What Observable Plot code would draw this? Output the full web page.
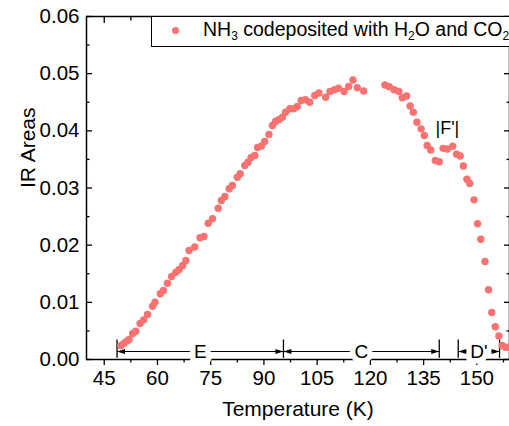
<!DOCTYPE html>
<html>
<head>
<meta charset="utf-8">
<script src="https://cdn.jsdelivr.net/npm/d3@7"></script>
<script src="https://cdn.jsdelivr.net/npm/@observablehq/plot@0.6"></script>
<style>
  html, body { margin: 0; padding: 0; background: #fff; overflow: hidden; }
  #wrap { position: relative; width: 509px; height: 426px; overflow: hidden; font-family: Arial, "Liberation Sans", sans-serif; }
  #legendBox { position: absolute; left: 151px; top: 15.5px; width: 400px; height: 31px; border: 1.3px solid #000; background: #fff; box-sizing: border-box; }
  #legendDot { position: absolute; left: 171.5px; top: 27px; width: 7px; height: 7px; border-radius: 50%; background: #f87272; }
  #legendText { position: absolute; left: 203px; top: 20.2px; font-size: 19.5px; line-height: 1; white-space: nowrap; color: #000; }
  #legendText span { font-size: 12px; position: relative; top: 4px; }
</style>
</head>
<body>
<div id="wrap">
  <div id="chart"></div>
  <div id="legendBox"></div>
  <div id="legendDot"></div>
  <div id="legendText">NH<span>3</span> codeposited with H<span>2</span>O and CO<span>2</span></div>
</div>
<script>
// Temperature (K)
const temperature = [
  49.7, 50.6, 51.4, 52.0, 53.0, 53.9, 55.1, 56.1, 57.2, 58.6,
  59.3, 60.8, 61.7, 62.8, 64.0, 65.2, 66.1, 67.1, 68.0, 68.9,
  70.5, 72.0, 73.1, 74.3, 75.5, 77.1, 78.0, 79.0, 80.2, 81.1,
  82.5, 83.3, 84.6, 85.5, 86.4, 87.4, 88.2, 89.3, 90.2, 91.4,
  92.4, 93.3, 94.2, 95.2, 96.1, 97.3, 98.4, 99.4, 100.5, 101.7,
  102.9, 104.3, 105.5, 107.4, 108.6, 109.9, 111.0, 112.6, 113.9, 115.1,
  116.3, 118.1, 124.1, 125.3, 126.7, 128.0, 129.0, 130.2, 131.2, 132.1,
  133.1, 134.3, 135.2, 136.0, 137.0, 138.3, 139.4, 140.5, 141.7, 143.2,
  144.3, 145.3, 146.2, 147.2, 148.0, 149.2, 150.2, 151.1, 152.3, 153.3,
  154.2, 155.2, 156.2, 157.1, 158.1, 159.0
];
// IR Areas
const irArea = [
  0.00245, 0.00285, 0.00324, 0.00350, 0.00455, 0.00495, 0.00630, 0.00694, 0.00787, 0.00932,
  0.01002, 0.01149, 0.01207, 0.01335, 0.01452, 0.01527, 0.01574, 0.01644, 0.01732, 0.01907,
  0.01968, 0.02129, 0.02151, 0.02384, 0.02461, 0.02647, 0.02781, 0.02851, 0.02986, 0.03044,
  0.03189, 0.03248, 0.03393, 0.03451, 0.03533, 0.03568, 0.03708, 0.03735, 0.03813, 0.03936,
  0.04093, 0.04168, 0.04193, 0.04238, 0.04326, 0.04385, 0.04385, 0.04425, 0.04530, 0.04543,
  0.04500, 0.04618, 0.04662, 0.04588, 0.04688, 0.04718, 0.04745, 0.04688, 0.04775, 0.04889,
  0.04753, 0.04697, 0.04801, 0.04770, 0.04718, 0.04688, 0.04578, 0.04609, 0.04434, 0.04326,
  0.04151, 0.04035, 0.03918, 0.03743, 0.03665, 0.03481, 0.03460, 0.03694, 0.03682, 0.03731,
  0.03591, 0.03560, 0.03385, 0.03152, 0.03079, 0.02793, 0.02374, 0.02104, 0.01714, 0.01219,
  0.00822, 0.00572, 0.00411, 0.00245, 0.00215, 0.00215
];
const seriesName = "NH3 codeposited with H2O and CO2";

// Axis ticks
const xMajorTicks = [45, 60, 75, 90, 105, 120, 135, 150];
const xMinorTicks = [52.5, 67.5, 82.5, 97.5, 112.5, 127.5, 142.5, 157.5];
const yMajorTicks = [0, 0.01, 0.02, 0.03, 0.04, 0.05, 0.06];
const yMinorTicks = [0.005, 0.015, 0.025, 0.035, 0.045, 0.055];

// Temperature regions (annotation)
const regionLabels = ["E", "C", "D'"];
const regionStart = [48.6, 95.5, 144.75];
const regionEnd = [95.5, 139.4, 156.4];
const regionBounds = [48.6, 95.5, 139.4, 144.75, 156.4];
const arrowLevel = 0.0014;
const barLow = 0.0002;
const barHigh = 0.0034;
const peakLabel = "|F'|";
const peakLabelT = 141.7;
const peakLabelA = 0.0404;

const data = temperature.map((t, i) => ({t, a: irArea[i]}));
const regions = regionLabels.map((label, i) => ({
  label, x1: regionStart[i], x2: regionEnd[i], mid: (regionStart[i] + regionEnd[i]) / 2, y: arrowLevel
}));
const leftHeads = regions.map(r => ({x: r.x1, y: r.y}));
const rightHeads = regions.map(r => ({x: r.x2, y: r.y}));

const headLeft = {draw(ctx) { ctx.moveTo(0, 0); ctx.lineTo(8, -2.6); ctx.lineTo(8, 2.6); ctx.closePath(); }};
const headRight = {draw(ctx) { ctx.moveTo(0, 0); ctx.lineTo(-8, -2.6); ctx.lineTo(-8, 2.6); ctx.closePath(); }};

const color = "#f87272";
const blank = () => "";

const chart = Plot.plot({
  width: 509,
  height: 426,
  marginLeft: 86,
  marginRight: 0,
  marginTop: 16,
  marginBottom: 67,
  x: {domain: [40, 159.2]},
  y: {domain: [0, 0.06]},
  style: {fontFamily: "Arial, 'Liberation Sans', sans-serif", fontSize: "20.5px", background: "white", color: "black", overflow: "visible"},
  marks: [
    Plot.axisX(xMajorTicks, {anchor: "bottom", tickSize: 6, tickPadding: 5, strokeWidth: 1.3, tickFormat: d => String(d), label: null}),
    Plot.axisX(xMinorTicks, {anchor: "bottom", tickSize: 3.5, strokeWidth: 1.3, tickFormat: blank, label: null}),
    Plot.axisX(xMajorTicks, {anchor: "top", tickSize: -6, strokeWidth: 1.3, tickFormat: blank, label: null}),
    Plot.axisX(xMinorTicks, {anchor: "top", tickSize: -3.5, strokeWidth: 1.3, tickFormat: blank, label: null}),
    Plot.axisY(yMajorTicks, {anchor: "left", tickSize: 0, tickPadding: 7, tickFormat: d3.format(".2f"), label: null}),
    Plot.axisY(yMajorTicks, {anchor: "left", tickSize: -6, strokeWidth: 1.3, tickFormat: blank, label: null}),
    Plot.axisY(yMinorTicks, {anchor: "left", tickSize: -3.5, strokeWidth: 1.3, tickFormat: blank, label: null}),
    Plot.axisY(yMajorTicks, {anchor: "right", tickSize: -6, strokeWidth: 1.3, tickFormat: blank, label: null}),
    Plot.axisY(yMinorTicks, {anchor: "right", tickSize: -3.5, strokeWidth: 1.3, tickFormat: blank, label: null}),
    Plot.frame({stroke: "black", strokeWidth: 1.5}),
    Plot.text(["Temperature (K)"], {frameAnchor: "bottom", dy: 49.5, lineAnchor: "middle", fontSize: 21, fill: "black"}),
    Plot.text(["IR Areas"], {frameAnchor: "left", dx: -58, rotate: -90, lineAnchor: "middle", fontSize: 21, fill: "black"}),
    Plot.link(regions, {x1: "x1", x2: "x2", y1: "y", y2: "y", stroke: "black", strokeWidth: 1}),
    Plot.text(regions, {x: "mid", y: "y", text: "label", fontSize: 19, lineAnchor: "middle", fill: "black", stroke: "white", strokeWidth: 11, paintOrder: "stroke"}),
    Plot.dot(leftHeads, {x: "x", y: "y", symbol: headLeft, r: 3, fill: "black", stroke: null}),
    Plot.dot(rightHeads, {x: "x", y: "y", symbol: headRight, r: 3, fill: "black", stroke: null}),
    Plot.ruleX(regionBounds, {y1: barLow, y2: barHigh, stroke: "black", strokeWidth: 1.3}),
    Plot.text([peakLabel], {x: () => peakLabelT, y: () => peakLabelA, text: d => d, fontSize: 18, lineAnchor: "middle", fill: "black"}),
    Plot.dot(data, {x: "t", y: "a", r: 3.7, fill: color, stroke: null, title: () => seriesName})
  ]
});
document.getElementById("chart").appendChild(chart);
</script>
</body>
</html>
